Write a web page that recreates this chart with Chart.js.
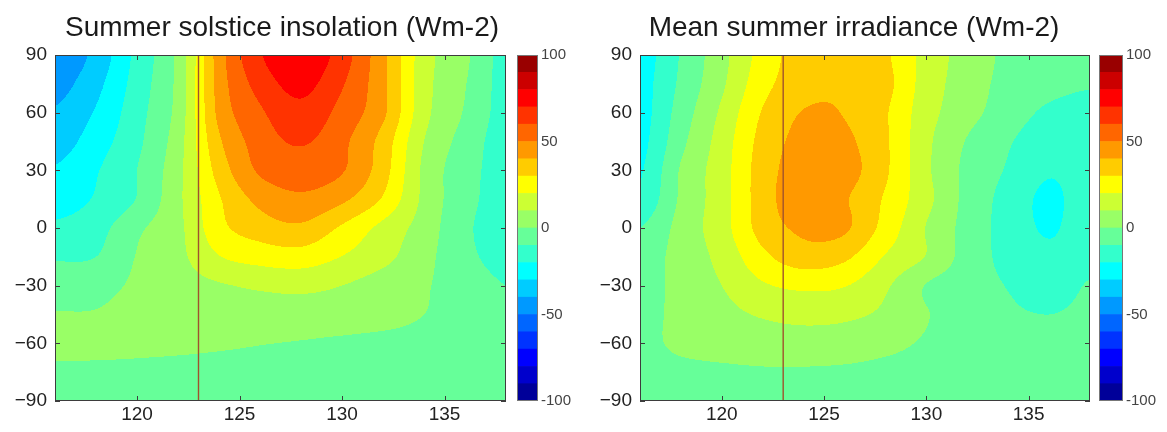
<!DOCTYPE html>
<html>
<head>
<meta charset="utf-8">
<script src="https://cdn.jsdelivr.net/npm/chart.js@4.4.1/dist/chart.umd.min.js"></script>
<style>
    html, body { margin: 0; padding: 0; background: #fff; }
    #wrap { position: relative; width: 1167px; height: 432px; overflow: hidden; }
    canvas { position: absolute; top: 0; }
</style>
</head>
<body>
<div id="wrap">
    <canvas id="solsticeChart" width="564" height="432" style="left:0px"></canvas>
    <canvas id="irradianceChart" width="568" height="432" style="left:570px"></canvas>
    <canvas id="solsticeBar" width="60" height="432" style="left:517px"></canvas>
    <canvas id="irradianceBar" width="60" height="432" style="left:1099px"></canvas>
</div>
<script>
// axes
const ageTicks = [120, 125, 130, 135]
const latTicks = [-90, -60, -30, 0, 30, 60, 90]
const colorTicks = [-100, -50, 0, 50, 100]
const colorLevels = [-100, -90, -80, -70, -60, -50, -40, -30, -20, -10, 0, 10, 20, 30, 40, 50, 60, 70, 80, 90, 100]
const markerAge = 123

// grid of the anomaly fields (kyr BP across, latitude down)
const ageGrid = [116, 118, 120, 122, 124, 126, 128, 130, 132, 134, 136, 138]
const latGrid = [90, 75, 60, 45, 30, 15, 0, -15, -30, -45, -60, -75, -90]

// Summer solstice insolation anomaly (Wm-2)
const solsticeInsolation = [
    [-48, -37, -17, 2.5, 45, 69, 78, 65, 42.5, 14.5, 2, -14],
    [-44, -33, -15.5, 3, 44, 64, 73, 61, 42.3, 14, 0.5, -14],
    [-39, -29, -13.7, 3.8, 42.6, 58.4, 67, 56.5, 42, 13.3, -0.9, -14],
    [-35, -24.7, -12.3, 5.7, 38.4, 54.5, 61, 52.4, 36, 10, -3.8, -15],
    [-29, -20.8, -10, 7.1, 34, 51.5, 55, 50.8, 34.3, 7.9, -6, -14],
    [-25, -19, -9.5, 7.8, 29, 42.8, 48, 42, 28.9, 7.7, -6.7, -14],
    [-18, -13.7, -2, 7.5, 26.9, 35, 38, 28.5, 17.1, 5.5, -8.2, -14],
    [-11, -10, 0.5, 7.3, 19.5, 24, 25.5, 19.7, 12.9, 3.2, -7.5, -13],
    [-5, -3, 1.5, 5.5, 9, 11.5, 12.5, 10, 5.5, 1, -5, -10],
    [0.5, 0.5, 2.5, 4, 5, 5.5, 5.5, 5, 3.5, 0, -3, -7],
    [3, 2.5, 2, 1.8, 1.2, 0.3, -0.5, -1.5, -2.5, -3, -4, -5],
    [-2, -2, -2, -2.5, -3, -3, -3.5, -4, -4, -4.5, -5, -5],
    [-4, -4, -4, -4, -4.5, -4.5, -5, -5, -5, -5, -5.5, -5.5],
]

// Mean summer irradiance anomaly (Wm-2)
const summerIrradiance = [
    [-25, -9.2, 6.7, 24, 35, 37, 31.5, 16.1, 5.9, -2, -5, -7],
    [-24, -8, 8.3, 26.5, 36, 38.5, 33, 15.5, 5, -3, -6.5, -9],
    [-24, -5.5, 11.9, 30.8, 40.5, 39.5, 31, 14, 3.5, -5, -12, -15],
    [-23, -2.7, 14.5, 33.5, 43, 42, 31.5, 12.4, -0.7, -9, -16, -14],
    [-21, 1, 15.7, 35, 45, 44, 31.5, 12, -2.5, -11, -19, -15],
    [-18, 1.6, 15.8, 35.3, 46, 41, 28.7, 13, -3, -13.5, -22, -14],
    [-10, 3.6, 16, 34, 42, 41.5, 26.2, 9.5, -3.5, -14, -21, -14],
    [-5, 3.75, 13.1, 27.5, 35.5, 32, 19.2, 9.5, -4, -13, -18, -14],
    [-5, 3.5, 10, 18.7, 22, 20.5, 11.5, -0.5, -5.5, -10.5, -16, -9],
    [-3, 2.5, 7, 11, 13, 12, 8, 0.5, -4, -8, -10, -7],
    [-2, 1.5, 3.5, 5, 5.5, 5, 2.5, -1, -3, -4.5, -5, -5],
    [-3, -2, -1.5, -1, -1, -1.5, -2.5, -3.5, -4, -4.5, -5, -5],
    [-4, -4, -4, -4, -4, -4.5, -5, -5, -5, -5.5, -5.5, -6],
]

// jet(20)
const jet = [
    "#000099", "#0000cc", "#0000ff", "#0033ff", "#0066ff", "#0099ff", "#00ccff",
    "#00ffff", "#33ffcc", "#66ff99", "#99ff66", "#ccff33", "#ffff00", "#ffcc00",
    "#ff9900", "#ff6600", "#ff3300", "#ff0000", "#cc0000", "#990000",
]
const jetRgb = jet.map((c) => [1, 3, 5].map((i) => parseInt(c.substr(i, 2), 16)))

const fontFamily = "'Liberation Sans', Arial, Helvetica, sans-serif"
const minus = (v) => String(v).replace("-", "\u2212")

function catmull(p0, p1, p2, p3, t) {
    return (
        p1 +
        0.5 * t * (p2 - p0 + t * (2 * p0 - 5 * p1 + 4 * p2 - p3 + t * (3 * (p1 - p2) + p3 - p0)))
    )
}

function sampleField(field, age, lat) {
    const fx = (age - ageGrid[0]) / (ageGrid[1] - ageGrid[0])
    const fy = (lat - latGrid[0]) / (latGrid[1] - latGrid[0])
    const ix = Math.min(Math.max(Math.floor(fx), 0), ageGrid.length - 2)
    const iy = Math.min(Math.max(Math.floor(fy), 0), latGrid.length - 2)
    const tx = fx - ix
    const ty = fy - iy
    const at = (r, c) =>
        field[Math.min(Math.max(r, 0), latGrid.length - 1)][
            Math.min(Math.max(c, 0), ageGrid.length - 1)
        ]
    const rows = []
    for (let r = -1; r <= 2; r++) {
        rows.push(catmull(at(iy + r, ix - 1), at(iy + r, ix), at(iy + r, ix + 1), at(iy + r, ix + 2), tx))
    }
    return catmull(rows[0], rows[1], rows[2], rows[3], ty)
}

function levelIndex(v) {
    const step = colorLevels[1] - colorLevels[0]
    const k = Math.floor((v - colorLevels[0]) / step)
    return Math.max(0, Math.min(jetRgb.length - 1, k))
}

function fieldPlugin(field) {
    return {
        id: "field",
        beforeDatasetsDraw(chart) {
            const { ctx, chartArea, scales } = chart
            const left = Math.round(chartArea.left)
            const top = Math.round(chartArea.top)
            const w = Math.round(chartArea.right) - left
            const h = Math.round(chartArea.bottom) - top
            const img = ctx.createImageData(w, h)
            for (let j = 0; j < h; j++) {
                const lat = scales.y.getValueForPixel(top + j + 0.5)
                for (let i = 0; i < w; i++) {
                    const age = scales.x.getValueForPixel(left + i + 0.5)
                    const c = jetRgb[levelIndex(sampleField(field, age, lat))]
                    const p = (j * w + i) * 4
                    img.data[p] = c[0]
                    img.data[p + 1] = c[1]
                    img.data[p + 2] = c[2]
                    img.data[p + 3] = 255
                }
            }
            const off = document.createElement("canvas")
            off.width = w
            off.height = h
            off.getContext("2d").putImageData(img, 0, 0)
            ctx.drawImage(off, left, top)
        },
        afterDatasetsDraw(chart) {
            const { ctx, chartArea: a, scales } = chart
            ctx.save()
            ctx.strokeStyle = "#3d3d3d"
            ctx.lineWidth = 1
            ctx.beginPath()
            ageTicks.forEach((v) => {
                const px = Math.round(scales.x.getPixelForValue(v)) + 0.5
                ctx.moveTo(px, a.bottom)
                ctx.lineTo(px, a.bottom - 5)
                ctx.moveTo(px, a.top)
                ctx.lineTo(px, a.top + 5)
            })
            latTicks.forEach((v) => {
                const py = Math.round(scales.y.getPixelForValue(v)) + 0.5
                ctx.moveTo(a.left, py)
                ctx.lineTo(a.left + 5, py)
                ctx.moveTo(a.right, py)
                ctx.lineTo(a.right - 5, py)
            })
            ctx.stroke()
            ctx.strokeRect(a.left + 0.5, a.top + 0.5, a.right - a.left - 1, a.bottom - a.top - 1)
            ctx.restore()
        },
    }
}

function renderFieldChart(canvas, field, config) {
    let ctx = canvas.getContext("2d")

    return new Chart(ctx, {
        type: "scatter",
        plugins: [fieldPlugin(field)],
        data: {
            datasets: [
                {
                    data: [
                        { x: markerAge, y: latTicks[0] },
                        { x: markerAge, y: latTicks[latTicks.length - 1] },
                    ],
                    showLine: true,
                    borderColor: "#a0522d",
                    borderWidth: 1.4,
                    pointRadius: 0,
                },
            ],
        },
        options: {
            responsive: false,
            animation: false,
            events: [],
            layout: { padding: 0 },
            plugins: {
                legend: { display: false },
                tooltip: { enabled: false },
                title: {
                    display: true,
                    text: config.title,
                    color: "#1a1a1a",
                    font: { family: fontFamily, size: 28, weight: "normal" },
                    padding: { top: 11, bottom: 10.4 },
                },
            },
            scales: {
                x: {
                    type: "linear",
                    min: ageGrid[0],
                    max: ageGrid[ageGrid.length - 1],
                    grid: { display: false, drawTicks: false },
                    border: { display: false },
                    afterBuildTicks: (scale) => {
                        scale.ticks = ageTicks.map((v) => ({ value: v }))
                    },
                    afterFit: (scale) => {
                        scale.height = 31
                    },
                    ticks: {
                        padding: 2,
                        color: "#222",
                        font: { family: fontFamily, size: 19 },
                        callback: (val) => minus(val),
                    },
                },
                y: {
                    type: "linear",
                    min: latTicks[0],
                    max: latTicks[latTicks.length - 1],
                    grid: { display: false, drawTicks: false },
                    border: { display: false },
                    afterBuildTicks: (scale) => {
                        scale.ticks = latTicks.map((v) => ({ value: v }))
                    },
                    afterFit: (scale) => {
                        scale.width = config.axisWidth
                    },
                    ticks: {
                        padding: 8,
                        color: "#222",
                        font: { family: fontFamily, size: 19 },
                        callback: (val) => minus(val),
                    },
                },
                // empty axis that reserves the gap for the colour bar
                yGap: {
                    type: "linear",
                    position: "right",
                    display: true,
                    grid: { display: false, drawTicks: false },
                    border: { display: false },
                    ticks: { display: false },
                    afterFit: (scale) => {
                        scale.width = config.gapWidth
                    },
                },
            },
        },
    })
}

const barFrame = {
    id: "barFrame",
    afterDatasetsDraw(chart) {
        const { ctx, chartArea: a } = chart
        ctx.save()
        ctx.strokeStyle = "#777"
        ctx.lineWidth = 1
        ctx.strokeRect(a.left + 0.5, a.top + 0.5, a.right - a.left - 1, a.bottom - a.top - 1)
        ctx.restore()
    },
}

function renderColorbar(canvas, config) {
    let ctx = canvas.getContext("2d")

    const datasets = jet.map((color, i) => ({
        data: [[colorLevels[i], colorLevels[i + 1]]],
        backgroundColor: color,
        borderWidth: 0,
        grouped: false,
        barPercentage: 1,
        categoryPercentage: 1,
    }))

    return new Chart(ctx, {
        type: "bar",
        plugins: [barFrame],
        data: { labels: [""], datasets },
        options: {
            responsive: false,
            animation: false,
            events: [],
            layout: { padding: { top: 55, bottom: 31, left: 0, right: 0 } },
            plugins: {
                legend: { display: false },
                tooltip: { enabled: false },
            },
            scales: {
                x: { display: false },
                y: {
                    position: "right",
                    min: colorLevels[0],
                    max: colorLevels[colorLevels.length - 1],
                    grid: { display: false, drawTicks: false },
                    border: { display: false },
                    afterBuildTicks: (scale) => {
                        scale.ticks = colorTicks.map((v) => ({ value: v }))
                    },
                    afterFit: (scale) => {
                        scale.width = config.labelWidth
                    },
                    ticks: {
                        padding: 3,
                        color: "#444",
                        font: { family: fontFamily, size: 15 },
                    },
                },
            },
        },
    })
}

renderFieldChart(document.getElementById("solsticeChart"), solsticeInsolation, {
    title: "Summer solstice insolation (Wm-2)",
    axisWidth: 55,
    gapWidth: 58,
})
renderFieldChart(document.getElementById("irradianceChart"), summerIrradiance, {
    title: "Mean summer irradiance (Wm-2)",
    axisWidth: 70,
    gapWidth: 48,
})
renderColorbar(document.getElementById("solsticeBar"), { labelWidth: 39 })
renderColorbar(document.getElementById("irradianceBar"), { labelWidth: 36 })
</script>
</body>
</html>
